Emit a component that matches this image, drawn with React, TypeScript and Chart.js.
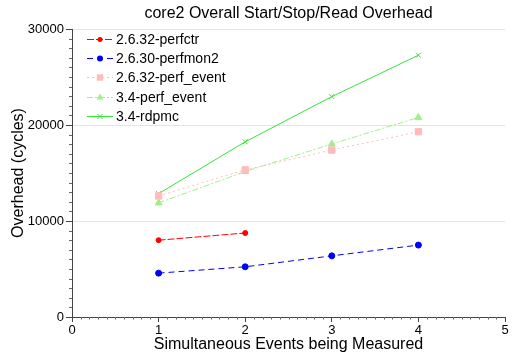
import React, { useEffect, useRef } from "react";
import { Chart, registerables } from "chart.js";

Chart.register(...registerables);

const xValues = [1, 2, 3, 4];
const perfctr = [8000, 8750];
const perfmon2 = [4570, 5230, 6370, 7490];
const perfEvent2632 = [12610, 15330, 17390, 19300];
const perfEvent34 = [11880, 15150, 18020, 20790];
const rdpmc = [12850, 18250, 22960, 27270];

const seriesNames = [
  "2.6.32-perfctr",
  "2.6.30-perfmon2",
  "2.6.32-perf_event",
  "3.4-perf_event",
  "3.4-rdpmc",
];
const xTicks = [0, 1, 2, 3, 4, 5];
const yTicks = [0, 10000, 20000, 30000];

const titleText = "core2 Overall Start/Stop/Read Overhead";
const xTitle = "Simultaneous Events being Measured";
const yTitle = "Overhead (cycles)";

const FONT = "'Liberation Sans', Arial, Helvetica, sans-serif";

const styles = [
  { color: "#ff0000", dash: [7, 2], point: "circle", radius: 2.5 },
  { color: "#0000ff", dash: [6, 4], point: "circle", radius: 3 },
  { color: "#ffbcbc", dash: [2, 3], point: "rect", radius: 4.5 },
  { color: "#a0f088", dash: [6, 2, 2, 2], point: "triangle", radius: 4 },
  { color: "#33e633", dash: [], point: "crossRot", radius: 3.5 },
];

function toPoints(vals: number[]) {
  return vals.map((v, i) => ({ x: xValues[i], y: v }));
}

function drawMarker(ctx: CanvasRenderingContext2D, style: string, x: number, y: number, r: number, color: string) {
  ctx.save();
  ctx.fillStyle = color;
  ctx.strokeStyle = color;
  ctx.lineWidth = 1;
  ctx.setLineDash([]);
  ctx.beginPath();
  if (style === "circle") {
    ctx.arc(x, y, r, 0, Math.PI * 2);
    ctx.fill();
  } else if (style === "rect") {
    const s = r * Math.SQRT1_2;
    ctx.rect(x - s, y - s, 2 * s, 2 * s);
    ctx.fill();
  } else if (style === "triangle") {
    ctx.moveTo(x, y - r);
    ctx.lineTo(x + r * 0.866, y + r * 0.5);
    ctx.lineTo(x - r * 0.866, y + r * 0.5);
    ctx.closePath();
    ctx.fill();
  } else if (style === "crossRot") {
    const s = r * Math.SQRT1_2;
    ctx.moveTo(x - s, y - s);
    ctx.lineTo(x + s, y + s);
    ctx.moveTo(x + s, y - s);
    ctx.lineTo(x - s, y + s);
    ctx.stroke();
  }
  ctx.restore();
}

const extrasPlugin = {
  id: "extras",
  afterDraw(chart: any) {
    const ctx: CanvasRenderingContext2D = chart.ctx;
    const area = chart.chartArea;
    const xs = chart.scales.x;
    const ys = chart.scales.y;
    ctx.save();
    // minor ticks
    ctx.strokeStyle = "#666";
    ctx.lineWidth = 1;
    ctx.beginPath();
    for (let i = 0; i <= 50; i++) {
      if (i % 10 === 0) continue;
      const px = Math.round(xs.getPixelForValue(i / 10)) + 0.5;
      ctx.moveTo(px, area.bottom);
      ctx.lineTo(px, area.bottom + 2.5);
    }
    for (let i = 0; i <= 30; i++) {
      if (i % 10 === 0) continue;
      const py = Math.round(ys.getPixelForValue(i * 1000)) + 0.5;
      ctx.moveTo(area.left, py);
      ctx.lineTo(area.left - 3, py);
    }
    ctx.stroke();

    // title
    const cx = (area.left + area.right) / 2;
    ctx.fillStyle = "#000";
    ctx.textAlign = "center";
    ctx.textBaseline = "middle";
    ctx.font = `16px ${FONT}`;
    ctx.fillText(titleText, cx, 14);
    ctx.fillText(xTitle, cx, 345);
    ctx.save();
    ctx.translate(19, (area.top + area.bottom) / 2);
    ctx.rotate(-Math.PI / 2);
    ctx.fillText(yTitle, 0, 0);
    ctx.restore();

    // legend
    ctx.font = `14px ${FONT}`;
    ctx.textAlign = "left";
    const y0 = 39;
    const dy = 19.2;
    seriesNames.forEach((name, i) => {
      const st = styles[i];
      const y = Math.round(y0 + i * dy) + 0.5;
      ctx.save();
      ctx.strokeStyle = st.color;
      ctx.lineWidth = 1;
      ctx.setLineDash(st.dash);
      ctx.beginPath();
      ctx.moveTo(87, y);
      ctx.lineTo(113, y);
      ctx.stroke();
      ctx.restore();
      drawMarker(ctx, st.point, 100, y, st.radius, st.color);
      ctx.fillStyle = "#000";
      ctx.fillText(name, 116, y + 1);
    });
    ctx.restore();
  },
};

export default function App() {
  const ref = useRef<HTMLCanvasElement | null>(null);
  useEffect(() => {
    if (!ref.current) return;
    const allSeries = [perfctr, perfmon2, perfEvent2632, perfEvent34, rdpmc];
    const chart = new Chart(ref.current, {
      type: "line",
      data: {
        datasets: allSeries.map((vals, i) => ({
          label: seriesNames[i],
          data: toPoints(vals),
          borderColor: styles[i].color,
          backgroundColor: styles[i].color,
          borderWidth: 1,
          borderDash: styles[i].dash,
          pointStyle: styles[i].point as any,
          pointRadius: styles[i].radius,
          pointBorderWidth: 1,
          pointBorderColor: styles[i].color,
          pointBackgroundColor: styles[i].color,
          fill: false,
          tension: 0,
        })),
      },
      options: {
        responsive: false,
        animation: false,
        events: [],
        layout: { padding: { top: 29, right: 18, left: 0, bottom: 0 } },
        plugins: {
          legend: { display: false },
          title: { display: false },
          tooltip: { enabled: false },
        },
        scales: {
          x: {
            type: "linear",
            min: 0,
            max: 5,
            afterBuildTicks: (s: any) => {
              s.ticks = xTicks.map((v) => ({ value: v }));
            },
            ticks: {
              stepSize: 1,
              color: "#000",
              font: { family: FONT, size: 13 },
              padding: 1,
              maxRotation: 0,
              callback: (v: any) => String(v),
            },
            grid: {
              drawOnChartArea: false,
              drawTicks: true,
              tickLength: 5,
              tickColor: "#444",
            },
            border: { color: "#444", width: 1 },
            afterFit: (s: any) => {
              s.height = 44;
            },
          },
          y: {
            type: "linear",
            min: 0,
            max: 30000,
            afterBuildTicks: (s: any) => {
              s.ticks = yTicks.map((v) => ({ value: v }));
            },
            ticks: {
              stepSize: 10000,
              color: "#000",
              font: { family: FONT, size: 13 },
              padding: 2,
              callback: (v: any) => String(v),
            },
            grid: {
              color: (c: any) => (c.tick && c.tick.value === 0 ? "rgba(0,0,0,0)" : "#e4e4e4"),
              drawTicks: true,
              tickLength: 6,
              tickColor: "#444",
            },
            border: { color: "#444", width: 1 },
            afterFit: (s: any) => {
              s.width = 72;
            },
          },
        },
      },
      plugins: [extrasPlugin],
    });
    return () => chart.destroy();
  }, []);
  return (
    <div style={{ position: "fixed", left: 0, top: 0, width: 523, height: 361, background: "#fff" }}>
      <canvas ref={ref} width={523} height={361} style={{ width: 523, height: 361, display: "block" }} />
    </div>
  );
}
